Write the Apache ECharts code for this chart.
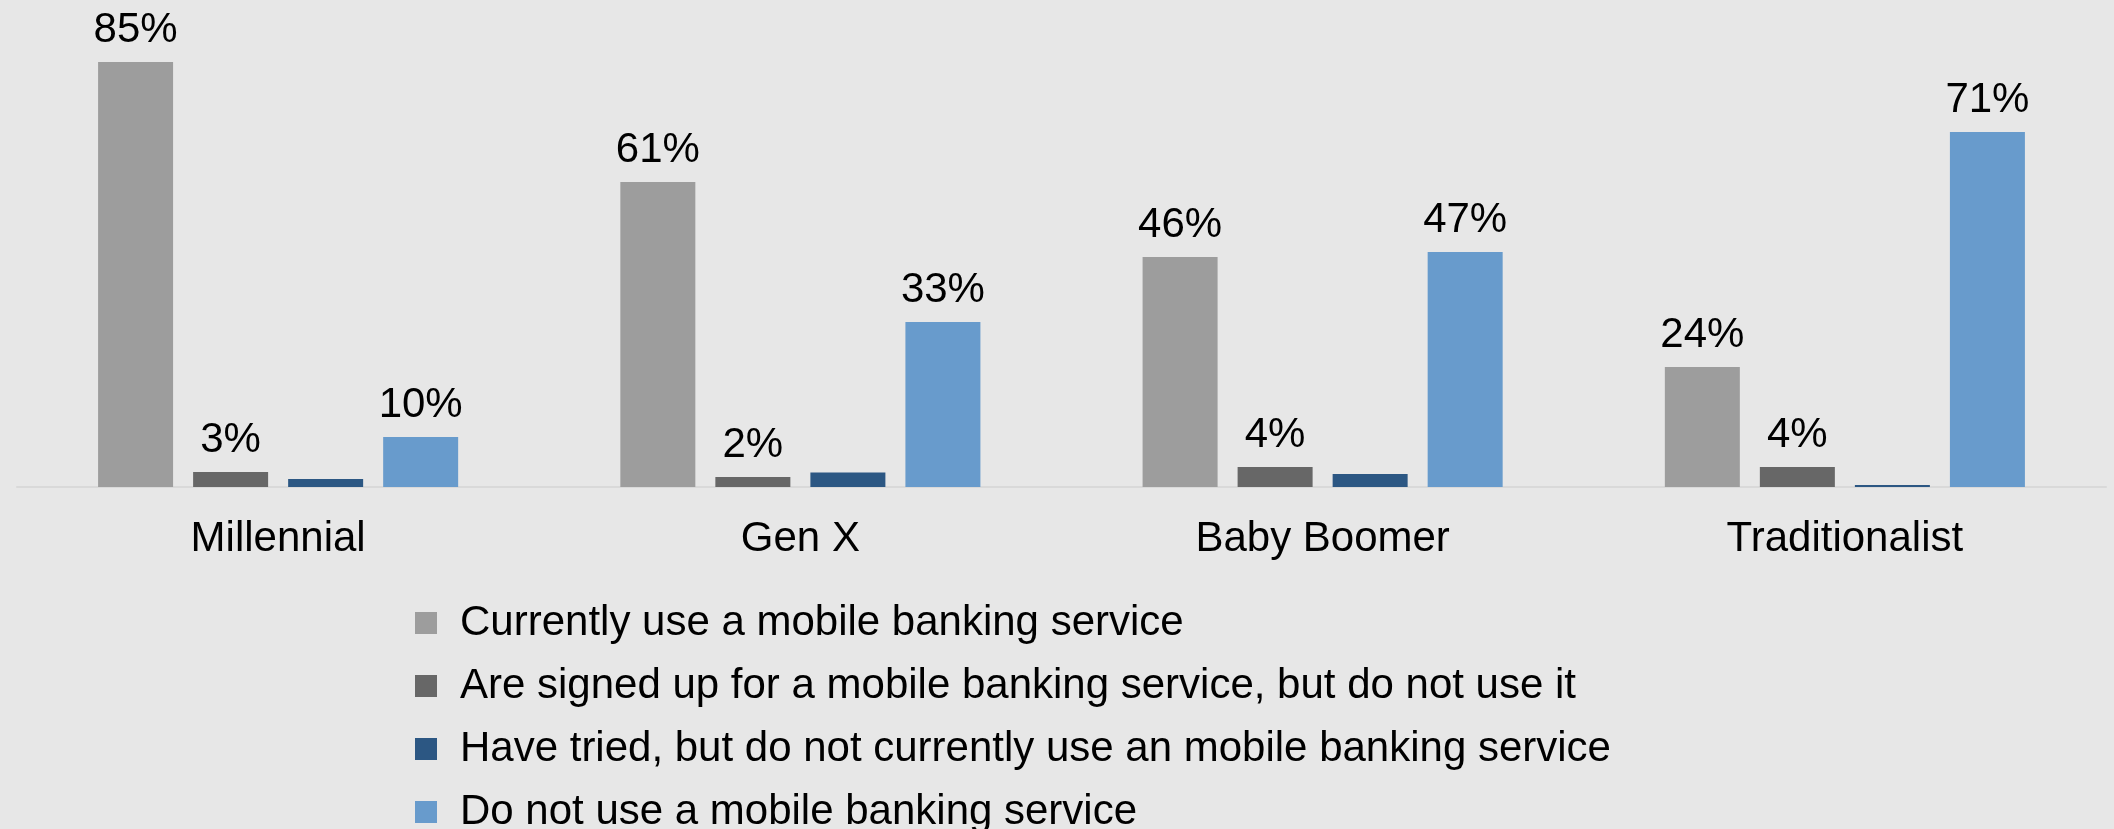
<!DOCTYPE html>
<html>
<head>
<meta charset="utf-8">
<script src="https://cdn.jsdelivr.net/npm/echarts@6/dist/echarts.min.js"></script>
<style>
html,body{margin:0;padding:0;background:#E7E7E7;}
#chart{width:2114px;height:829px;}
</style>
</head>
<body>
<div id="chart"></div>
<script>
const categories = ['Millennial', 'Gen X', 'Baby Boomer', 'Traditionalist'];
const seriesNames = [
  'Currently use a mobile banking service',
  'Are signed up for a mobile banking service, but do not use it',
  'Have tried, but do not currently use an mobile banking service',
  'Do not use a mobile banking service'
];
const currentlyUse = [85, 61, 46, 24];
const signedUpNotUse = [3, 2, 4, 4];
const triedNotUse = [1.6, 2.9, 2.6, 0.4];
const doNotUse = [10, 33, 47, 71];

const colors = ['#9D9D9D', '#676767', '#2C5783', '#689BCC'];
const FONT = '"Liberation Sans", Arial, sans-serif';

const labelCfg = {
  show: true,
  position: 'top',
  distance: 11,
  color: '#000',
  fontFamily: FONT,
  fontSize: 42,
  lineHeight: 42,
  formatter: p => p.value + '%'
};

const dataSets = [currentlyUse, signedUpNotUse, triedNotUse, doNotUse];
const showLabels = [true, true, false, true];

const chart = echarts.init(document.getElementById('chart'), null, {renderer: 'canvas'});
chart.setOption({
  backgroundColor: '#E7E7E7',
  animation: false,
  grid: {left: 17, right: 8, top: 37, bottom: 342, containLabel: false},
  legend: {
    orient: 'vertical',
    left: 415,
    top: 602,
    height: 300,
    padding: 0,
    itemWidth: 22,
    itemHeight: 22,
    itemGap: 21,
    icon: 'rect',
    data: seriesNames,
    textStyle: {
      color: '#000',
      fontFamily: FONT,
      fontSize: 42,
      lineHeight: 42,
      padding: [0, 0, 0, 18]
    }
  },
  xAxis: {
    type: 'category',
    data: categories,
    axisLine: {show: true, lineStyle: {color: '#D9D9D9', width: 2}},
    axisTick: {show: false},
    axisLabel: {
      color: '#000',
      fontFamily: FONT,
      fontSize: 42,
      lineHeight: 42,
      margin: 31
    }
  },
  yAxis: {
    type: 'value',
    min: 0,
    max: 90,
    show: false,
    splitLine: {show: false}
  },
  series: seriesNames.map((name, i) => ({
    name: name,
    type: 'bar',
    data: dataSets[i],
    barWidth: 75,
    barGap: '26.7%',
    itemStyle: {color: colors[i]},
    label: Object.assign({}, labelCfg, {show: showLabels[i]})
  }))
});
</script>
</body>
</html>
